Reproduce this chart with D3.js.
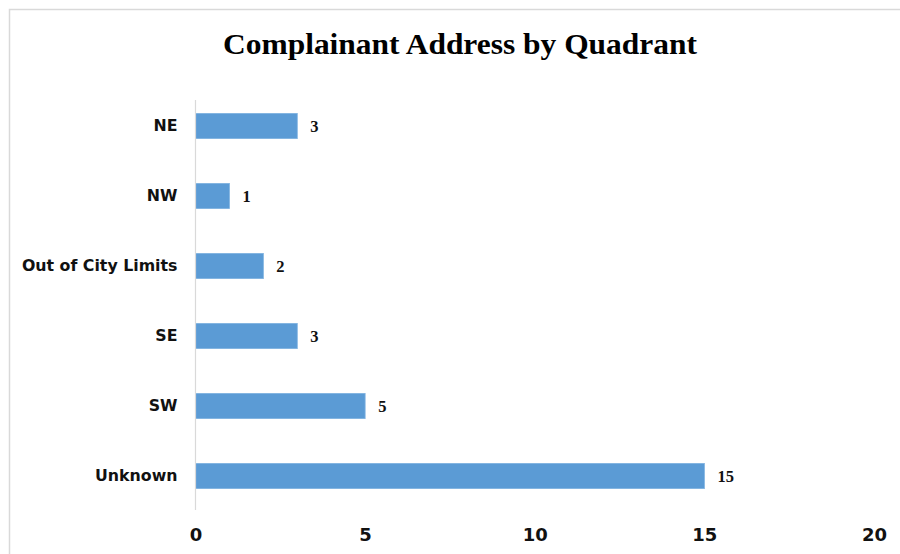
<!DOCTYPE html>
<html>
<head>
<meta charset="utf-8">
<script src="https://cdn.jsdelivr.net/npm/d3@7"></script>
<style>
	body { margin: 0; background: #fff; }
	svg { display: block; }
</style>
</head>
<body>
<div id="chart"></div>
<script>
// Data
var categories = ["NE", "NW", "Out of City Limits", "SE", "SW", "Unknown"];
var counts = [3, 1, 2, 3, 5, 15];
var xTicks = [0, 5, 10, 15, 20];

var width = 900, height = 554;
var margin = { top: 90, right: 25, bottom: 44, left: 195 };

var svg = d3.select("#chart").append("svg")
	.attr("width", width)
	.attr("height", height);

// chart frame
svg.append("rect")
	.attr("x", 9.5).attr("y", 9.5)
	.attr("width", width + 20).attr("height", height + 20)
	.attr("fill", "none")
	.attr("stroke", "#d9d9d9")
	.attr("stroke-width", 1.5);

svg.append("text")
	.attr("x", 460).attr("y", 54)
	.attr("text-anchor", "middle")
	.attr("font-family", "'Liberation Serif', 'Times New Roman', serif")
	.attr("font-weight", "bold")
	.attr("font-size", 29)
	.attr("textLength", 474)
	.attr("lengthAdjust", "spacingAndGlyphs")
	.attr("fill", "#000")
	.text("Complainant Address by Quadrant");

var x = d3.scaleLinear().domain([0, 20]).range([195.5, 874]);
var y = d3.scaleBand().domain(categories).range([margin.top + 1, 511]).paddingInner(0.64).paddingOuter(0.32);

var g = svg.append("g");

// bars
g.selectAll("rect.bar")
	.data(counts)
	.enter().append("rect")
	.attr("class", "bar")
	.attr("x", x(0))
	.attr("y", function (d, i) { return y(categories[i]); })
	.attr("width", function (d) { return x(d) - x(0); })
	.attr("height", y.bandwidth())
	.attr("fill", "#5b9bd5")
	.attr("stroke", "#7fb2e0")
	.attr("stroke-width", 0.8);

// value labels
g.selectAll("text.val")
	.data(counts)
	.enter().append("text")
	.attr("class", "val")
	.attr("x", function (d) { return x(d) + 13; })
	.attr("y", function (d, i) { return y(categories[i]) + y.bandwidth() / 2 + 6; })
	.attr("font-family", "'Liberation Serif', 'Times New Roman', serif")
	.attr("font-weight", "bold")
	.attr("font-size", 16.5)
	.attr("fill", "#111")
	.text(function (d) { return d; });

// y axis (category labels)
var yAxis = d3.axisLeft(y).tickSize(0).tickPadding(18);
var yg = svg.append("g")
	.attr("transform", "translate(" + x(0) + ",0)")
	.call(yAxis);
yg.select(".domain").remove();
yg.selectAll("text")
	.attr("font-family", "'DejaVu Sans', Verdana, sans-serif")
	.attr("font-weight", "bold")
	.attr("font-size", 15.8)
	.attr("fill", "#111");

svg.append("line")
	.attr("x1", x(0)).attr("x2", x(0))
	.attr("y1", 100).attr("y2", 510)
	.attr("stroke", "#d9d9d9")
	.attr("stroke-width", 1.2);

// x axis tick labels
var xAxis = d3.axisBottom(x).tickValues(xTicks).tickSize(0).tickPadding(0);
var xg = svg.append("g")
	.attr("transform", "translate(0,528)")
	.call(xAxis);
xg.select(".domain").remove();
xg.selectAll("text")
	.attr("font-family", "'DejaVu Sans', Verdana, sans-serif")
	.attr("font-weight", "bold")
	.attr("font-size", 18)
	.attr("fill", "#111");
</script>
</body>
</html>
